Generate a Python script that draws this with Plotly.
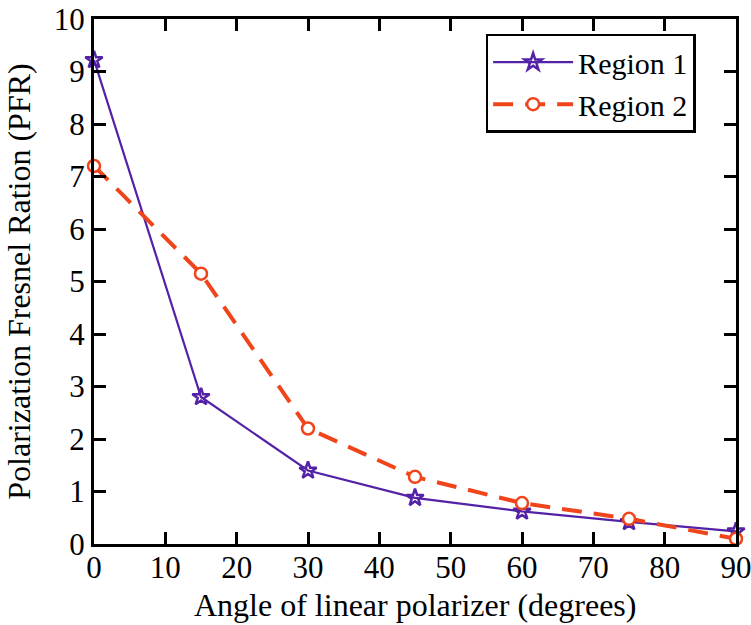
import plotly.graph_objects as go

angles = [0, 15, 30, 45, 60, 75, 90]
region1 = [9.22, 2.8, 1.4, 0.88, 0.62, 0.42, 0.24]
region2 = [7.2, 5.15, 2.2, 1.28, 0.78, 0.48, 0.1]
x_ticks = [0, 10, 20, 30, 40, 50, 60, 70, 80, 90]
y_ticks = [0, 1, 2, 3, 4, 5, 6, 7, 8, 9, 10]

purple = "#5322a6"
red = "#f0441a"
font = "Liberation Serif"

fig = go.Figure()
fig.add_trace(go.Scatter(
    x=angles, y=region1, name="Region 1", mode="lines+markers",
    line=dict(color=purple, width=2.2),
    marker=dict(symbol="star-open", size=13, color=purple, line=dict(width=2.5, color=purple)),
    cliponaxis=False,
))
fig.add_trace(go.Scatter(
    x=angles, y=region2, name="Region 2", mode="lines+markers",
    line=dict(color=red, width=4, dash="20px,12px"),
    marker=dict(symbol="circle", size=12, color="white", line=dict(width=2.5, color=red)),
    cliponaxis=False,
))

axis_common = dict(
    showline=True, linecolor="black", linewidth=3, mirror="ticks",
    ticks="inside", ticklen=12, tickwidth=3, tickcolor="black",
    showgrid=False, zeroline=False, automargin=False,
    ticklabeloverflow="allow",
    tickfont=dict(family=font, size=31, color="black"),
)

fig.update_layout(
    width=751, height=625,
    margin=dict(l=94, r=15, t=19, b=81),
    paper_bgcolor="white", plot_bgcolor="white",
    font=dict(family=font, color="black"),
    xaxis=dict(range=[0, 90], tickvals=x_ticks, ticklabelstandoff=-6, **axis_common),
    yaxis=dict(range=[0, 10], tickvals=y_ticks,
               title=dict(text="Polarization Fresnel Ration (PFR)", font=dict(family=font, size=32), standoff=14),
               **axis_common),
    legend=dict(x=0.61, y=0.972, xanchor="left", yanchor="top",
                bordercolor="black", borderwidth=2.5, bgcolor="white",
                font=dict(family=font, size=30), itemwidth=80,
                tracegroupgap=0),
    showlegend=True,
)

# x-axis title placed below the tick labels
fig.add_annotation(
    text="Angle of linear polarizer (degrees)",
    xref="paper", yref="paper", x=0.5, y=-0.117,
    xanchor="center", yanchor="middle", showarrow=False,
    font=dict(family=font, size=32, color="black"),
)

fig.write_html("out.html")
